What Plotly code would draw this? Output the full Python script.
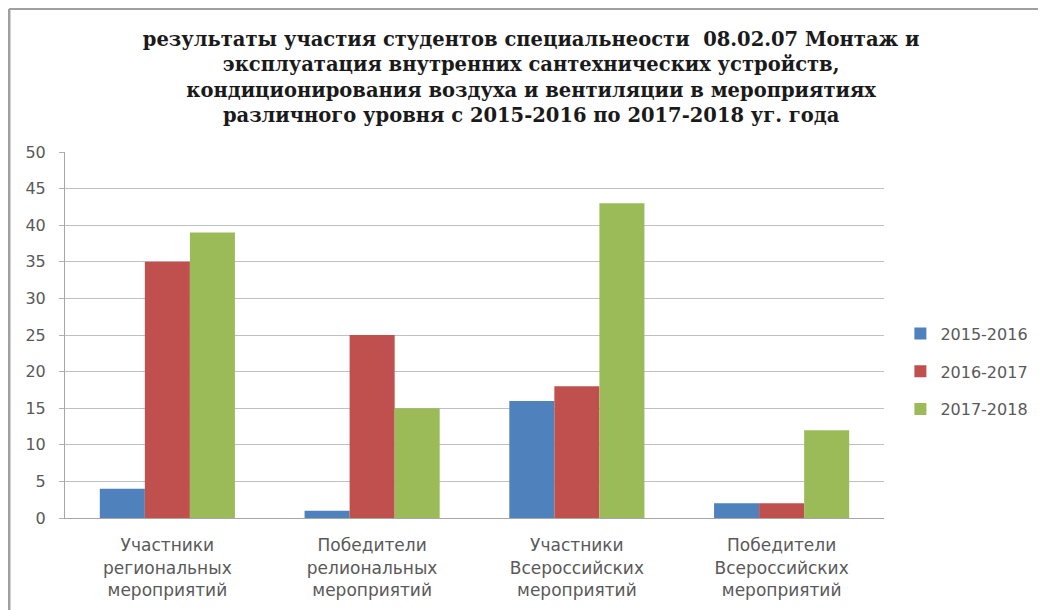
import plotly.graph_objects as go

categories = [
    "Участники<br>региональных<br>мероприятий",
    "Победители<br>релиональных<br>мероприятий",
    "Участники<br>Всероссийских<br>мероприятий",
    "Победители<br>Всероссийских<br>мероприятий",
]
series_names = ["2015-2016", "2016-2017", "2017-2018"]
values_2015_2016 = [4, 1, 16, 2]
values_2016_2017 = [35, 25, 18, 2]
values_2017_2018 = [39, 15, 43, 12]
colors = ["#4F81BD", "#C0504D", "#9BBB59"]
y_ticks = [0, 5, 10, 15, 20, 25, 30, 35, 40, 45, 50]

title_text = ("результаты участия студентов специальнеости  08.02.07 Монтаж и<br>"
              "эксплуатация внутренних сантехнических устройств,<br>"
              "кондиционирования воздуха и вентиляции в мероприятиях<br>"
              "различного уровня с 2015-2016 по 2017-2018 уг. года")

fig = go.Figure()
for name, vals, col in zip(series_names, [values_2015_2016, values_2016_2017, values_2017_2018], colors):
    fig.add_trace(go.Bar(x=categories, y=vals, name=name, legendgroup=name,
                         marker=dict(color=col, line=dict(width=0))))

# page body has an 8px margin, so the figure is sized to fit the 1046x610 window
W, H = 1038, 602
fig.update_layout(
    width=W, height=H,
    paper_bgcolor="white", plot_bgcolor="white",
    margin=dict(l=57, r=162, t=144, b=92, autoexpand=False),
    barmode="group", bargap=0.34, bargroupgap=0,
    font=dict(family="DejaVu Sans, sans-serif", color="#595959"),
    title=dict(text=title_text, x=0.504, xref="container", xanchor="center", y=0.937, yanchor="top",
               font=dict(family="DejaVu Serif, serif", size=19.5, color="#1a1a1a", weight="bold")),
    legend=dict(x=1.02, y=0.40, xanchor="left", yanchor="middle", font=dict(size=16, color="#595959"),
                tracegroupgap=14, itemwidth=30, bgcolor="rgba(0,0,0,0)"),
    showlegend=True,
)
fig.update_yaxes(range=[0, 50], tickvals=y_ticks, showgrid=True, gridcolor="#C0C0C0", gridwidth=1,
                 showline=True, linecolor="#A6A6A6", linewidth=1, ticks="outside", ticklen=5,
                 tickcolor="#B0B0B0", ticklabelstandoff=10, tickfont=dict(size=16, color="#595959"),
                 zeroline=False, automargin=False)
fig.update_xaxes(showline=True, linecolor="#A6A6A6", linewidth=1, ticks="",
                 tickfont=dict(size=17, color="#595959"), ticklabelstandoff=12, automargin=False)

# outer frame (left and top edges)
fig.add_shape(type="line", xref="paper", yref="paper", x0=-0.0684, x1=1.25, y0=1.391, y1=1.391,
              line=dict(color="#A0A0A0", width=2))
fig.add_shape(type="line", xref="paper", yref="paper", x0=-0.0684, x1=-0.0684, y0=-0.26, y1=1.391,
              line=dict(color="#A0A0A0", width=3))

fig.write_html("out.html")
